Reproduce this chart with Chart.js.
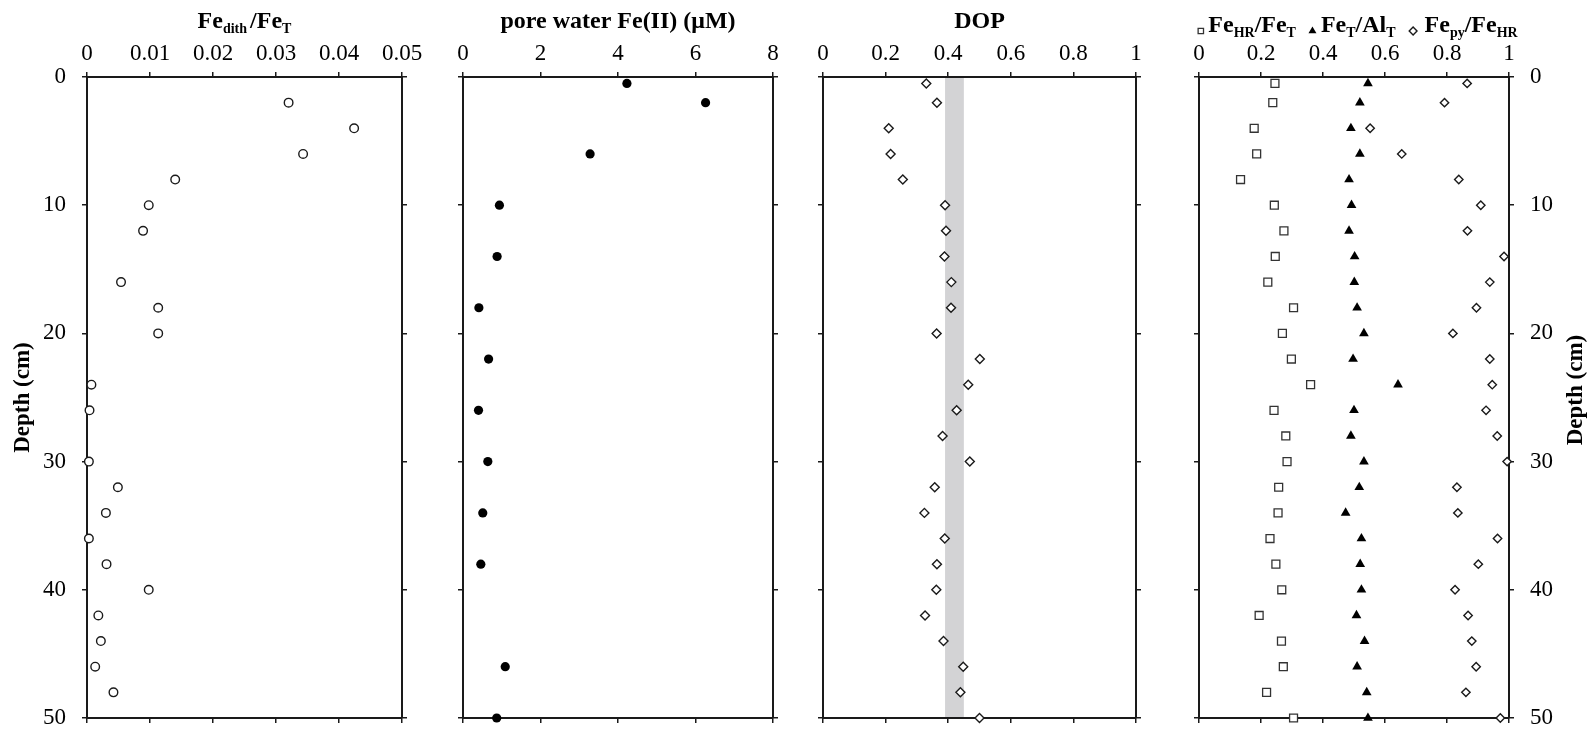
<!DOCTYPE html>
<html>
<head>
<meta charset="utf-8">
<title>Fe profiles</title>
<script src="https://cdn.jsdelivr.net/npm/chart.js@4.4.1/dist/chart.umd.min.js"></script>
<style>
  html, body { margin: 0; padding: 0; background: #fff; overflow: hidden; }
  #wrap { position: relative; width: 1594px; height: 729px; }
  #wrap canvas { position: absolute; top: 0; }
</style>
</head>
<body>
<div id="wrap">
  <canvas id="feDith"></canvas>
  <canvas id="poreFe"></canvas>
  <canvas id="dop"></canvas>
  <canvas id="ratios"></canvas>
</div>
<script>
// depth axis (cm) shared by all panels
const depthTicks = [0, 10, 20, 30, 40, 50];

// panel 1: Fe_dith / Fe_T
const depthFeDith = [2, 4, 6, 8, 10, 12, 16, 18, 20, 24, 26, 30, 32, 34, 36, 38, 40, 42, 44, 46, 48];
const feDithFeT = [0.0320, 0.0424, 0.0343, 0.0140, 0.0098, 0.0089, 0.0054, 0.0113, 0.0113, 0.0007, 0.0004,
                   0.0003, 0.0049, 0.0030, 0.0003, 0.0031, 0.0098, 0.0018, 0.0022, 0.0013, 0.0042];
const feDithTicks = [0, 0.01, 0.02, 0.03, 0.04, 0.05];

// panel 2: pore water Fe(II) (uM)
const depthPoreFe = [0.5, 2, 6, 10, 14, 18, 22, 26, 30, 34, 38, 46, 50];
const poreFeII = [4.23, 6.26, 3.28, 0.94, 0.88, 0.41, 0.66, 0.40, 0.64, 0.51, 0.46, 1.09, 0.87];
const poreFeTicks = [0, 2, 4, 6, 8];

// panel 3: DOP, plus the shaded reference band
const depthSolid = [0.5, 2, 4, 6, 8, 10, 12, 14, 16, 18, 20, 22, 24, 26, 28, 30, 32, 34, 36, 38, 40, 42, 44, 46, 48, 50];
const dopValues = [0.330, 0.364, 0.210, 0.216, 0.255, 0.390, 0.393, 0.388, 0.410, 0.409, 0.363, 0.501, 0.464,
                   0.427, 0.382, 0.469, 0.357, 0.324, 0.389, 0.364, 0.362, 0.326, 0.385, 0.448, 0.439, 0.500];
const dopBand = [0.39, 0.45];
const ratioTicks = [0, 0.2, 0.4, 0.6, 0.8, 1];

// panel 4: three ratios on the same depths as DOP
const feHrFeT = [0.245, 0.238, 0.178, 0.186, 0.134, 0.243, 0.274, 0.246, 0.222, 0.305, 0.269, 0.298, 0.360,
                 0.242, 0.280, 0.284, 0.257, 0.255, 0.229, 0.248, 0.267, 0.194, 0.266, 0.272, 0.218, 0.305];
const feTAlT = [0.545, 0.519, 0.490, 0.519, 0.484, 0.492, 0.484, 0.502, 0.501, 0.510, 0.532, 0.497, 0.642,
                0.500, 0.490, 0.532, 0.517, 0.473, 0.524, 0.520, 0.524, 0.508, 0.534, 0.510, 0.541, 0.545];
const fePyFeHr = [0.865, 0.792, 0.552, 0.654, 0.838, 0.909, 0.866, 0.984, 0.938, 0.895, 0.819, 0.938, 0.946,
                  0.926, 0.962, 0.994, 0.832, 0.835, 0.963, 0.901, 0.826, 0.868, 0.880, 0.894, 0.861, 0.972];

const FONT = '"Liberation Serif", "Times New Roman", serif';
const INK = '#1a1a1a';
const PAGE_H = 729;
const PLOT_TOP = 77;
const PLOT_BOTTOM = 718;

Chart.defaults.font.family = FONT;

function pts(depths, vals) {
    return vals.map((v, i) => ({ x: v, y: depths[i] }));
}

function axisX(pos, tickVals) {
    return {
        type: 'linear',
        position: pos,
        min: tickVals[0],
        max: tickVals[tickVals.length - 1],
        afterBuildTicks: s => { s.ticks = tickVals.map(v => ({ value: v })); },
        afterFit: s => {
            s.height = pos === 'top' ? PLOT_TOP : PAGE_H - PLOT_BOTTOM;
            s.paddingLeft = 0;
            s.paddingRight = 0;
        },
        ticks: {
            display: pos === 'top',
            color: '#000',
            font: { family: FONT, size: 23 },
            padding: 4,
            maxRotation: 0,
            autoSkip: false,
            callback: v => String(v)
        },
        grid: { drawOnChartArea: false, drawTicks: true, tickLength: 5, color: INK, lineWidth: 1.5 },
        border: { display: true, color: INK, width: 2 }
    };
}

function axisY(pos, showLabels, width, title) {
    return {
        type: 'linear',
        position: pos,
        reverse: true,
        min: depthTicks[0],
        max: depthTicks[depthTicks.length - 1],
        afterBuildTicks: s => { s.ticks = depthTicks.map(v => ({ value: v })); },
        afterFit: s => {
            s.width = width;
            s.paddingTop = 0;
            s.paddingBottom = 0;
        },
        ticks: {
            display: showLabels,
            color: '#000',
            font: { family: FONT, size: 23 },
            padding: 16,
            callback: v => String(v)
        },
        grid: { drawOnChartArea: false, drawTicks: true, tickLength: 5, color: INK, lineWidth: 1.5 },
        border: { display: true, color: INK, width: 2 },
        title: title ? {
            display: true,
            text: title,
            color: '#000',
            font: { family: FONT, size: 23, weight: 'bold' },
            padding: { top: 9, bottom: 0 }
        } : { display: false }
    };
}

// title drawn as rich text (subscripts) centred over the plot, with optional legend markers
function titlePlugin(items, opts) {
    return {
        id: 'richTitle',
        afterDraw(chart) {
            const ctx = chart.ctx;
            const area = chart.chartArea;
            const main = `bold ${opts.size}px ${FONT}`;
            const sub = `bold ${opts.subSize}px ${FONT}`;
            const width = it => {
                if (it.gap !== undefined) return it.gap;
                if (it.marker !== undefined) return it.w;
                ctx.font = it.sub ? sub : main;
                return ctx.measureText(it.t).width;
            };
            ctx.save();
            const total = items.reduce((s, it) => s + width(it), 0);
            let x = (area.left + area.right) / 2 - total / 2 + (opts.shift || 0);
            ctx.textAlign = 'left';
            ctx.textBaseline = 'alphabetic';
            items.forEach(it => {
                const w = width(it);
                if (it.marker !== undefined) {
                    const ds = chart.data.datasets[it.marker];
                    ctx.fillStyle = ds.pointBackgroundColor;
                    ctx.strokeStyle = ds.pointBorderColor;
                    ctx.lineWidth = ds.pointBorderWidth;
                    Chart.helpers.drawPoint(ctx, {
                        pointStyle: ds.pointStyle, rotation: 0, radius: it.r, borderWidth: ds.pointBorderWidth
                    }, x + w / 2, opts.baseline - 1);
                } else if (it.t) {
                    ctx.fillStyle = '#000';
                    ctx.font = it.sub ? sub : main;
                    ctx.fillText(it.t, x, opts.baseline + (it.sub ? opts.subDrop : 0));
                }
                x += w;
            });
            if (opts.side) {
                ctx.translate(area.right + opts.side.dx, opts.side.y);
                ctx.rotate(-Math.PI / 2);
                ctx.fillStyle = '#000';
                ctx.font = `bold 23px ${FONT}`;
                ctx.textAlign = 'center';
                ctx.textBaseline = 'middle';
                ctx.fillText(opts.side.text, 0, 0);
            }
            ctx.restore();
        }
    };
}

function bandPlugin(range, color) {
    return {
        id: 'shadeBand',
        beforeDatasetsDraw(chart) {
            const ctx = chart.ctx;
            const area = chart.chartArea;
            const xs = chart.scales.x;
            const x0 = xs.getPixelForValue(range[0]);
            const x1 = xs.getPixelForValue(range[1]);
            ctx.save();
            ctx.fillStyle = color;
            ctx.fillRect(x0, area.top + 1, x1 - x0, area.bottom - area.top - 2);
            ctx.restore();
        }
    };
}

function makePanel(id, p) {
    const canvas = document.getElementById(id);
    const cLeft = p.left - p.lw;
    canvas.width = p.right + p.rw - cLeft;
    canvas.height = PAGE_H;
    canvas.style.left = cLeft + 'px';
    return new Chart(canvas, {
        type: 'scatter',
        data: { datasets: p.datasets },
        options: {
            responsive: false,
            animation: false,
            events: [],
            layout: { padding: 0 },
            plugins: { legend: { display: false }, tooltip: { enabled: false } },
            scales: {
                x: axisX('top', p.ticks),
                x2: axisX('bottom', p.ticks),
                y: axisY('left', !!p.leftLabels, p.lw, p.leftTitle),
                y2: axisY('right', !!p.rightLabels, p.rw)
            }
        },
        plugins: p.plugins
    });
}

function markerSet(data, style, radius, fill, stroke, bw) {
    return {
        data: data,
        pointStyle: style,
        pointRadius: radius,
        pointBackgroundColor: fill,
        pointBorderColor: stroke,
        pointBorderWidth: bw,
        showLine: false,
        clip: false
    };
}

document.addEventListener('DOMContentLoaded', function () {
    const titleOpts = { size: 24, subSize: 14, subDrop: 5, baseline: 28 };

    makePanel('feDith', {
        left: 87, right: 402, lw: 87, rw: 30,
        ticks: feDithTicks,
        leftLabels: true,
        leftTitle: 'Depth (cm)',
        datasets: [markerSet(pts(depthFeDith, feDithFeT), 'circle', 4.3, '#fff', INK, 1.4)],
        plugins: [titlePlugin([
            { t: 'Fe' }, { t: 'dith', sub: true }, { gap: 3 }, { t: '/Fe' }, { t: 'T', sub: true }
        ], titleOpts)]
    });

    makePanel('poreFe', {
        left: 463, right: 773, lw: 15, rw: 30,
        ticks: poreFeTicks,
        datasets: [markerSet(pts(depthPoreFe, poreFeII), 'circle', 4.6, '#000', '#000', 0)],
        plugins: [titlePlugin([{ t: 'pore water Fe(II) (μM)' }], titleOpts)]
    });

    makePanel('dop', {
        left: 823, right: 1136, lw: 15, rw: 30,
        ticks: ratioTicks,
        datasets: [markerSet(pts(depthSolid, dopValues), 'rectRot', 4.5, '#fff', INK, 1.4)],
        plugins: [bandPlugin(dopBand, '#d3d3d5'), titlePlugin([{ t: 'DOP' }], titleOpts)]
    });

    makePanel('ratios', {
        left: 1199, right: 1509, lw: 15, rw: 85,
        ticks: ratioTicks,
        rightLabels: true,
        datasets: [
            markerSet(pts(depthSolid, feHrFeT), 'rect', 5.6, '#fff', '#333', 1.3),
            markerSet(pts(depthSolid, feTAlT), 'triangle', 5.6, '#000', '#000', 0),
            markerSet(pts(depthSolid, fePyFeHr), 'rectRot', 4.2, '#fff', INK, 1.4)
        ],
        plugins: [titlePlugin([
            { marker: 0, w: 9, r: 3.8 }, { gap: 3 },
            { t: 'Fe' }, { t: 'HR', sub: true }, { t: '/Fe' }, { t: 'T', sub: true },
            { gap: 11 }, { marker: 1, w: 11, r: 4.6 }, { gap: 3 },
            { t: 'Fe' }, { t: 'T', sub: true }, { t: '/Al' }, { t: 'T', sub: true },
            { gap: 13 }, { marker: 2, w: 9, r: 3.9 }, { gap: 7 },
            { t: 'Fe' }, { t: 'py', sub: true }, { t: '/Fe' }, { t: 'HR', sub: true }
        ], { size: 24, subSize: 14, subDrop: 5, baseline: 32, shift: 3,
             side: { text: 'Depth (cm)', dx: 67, y: 390 } })]
    });
});
</script>
</body>
</html>
